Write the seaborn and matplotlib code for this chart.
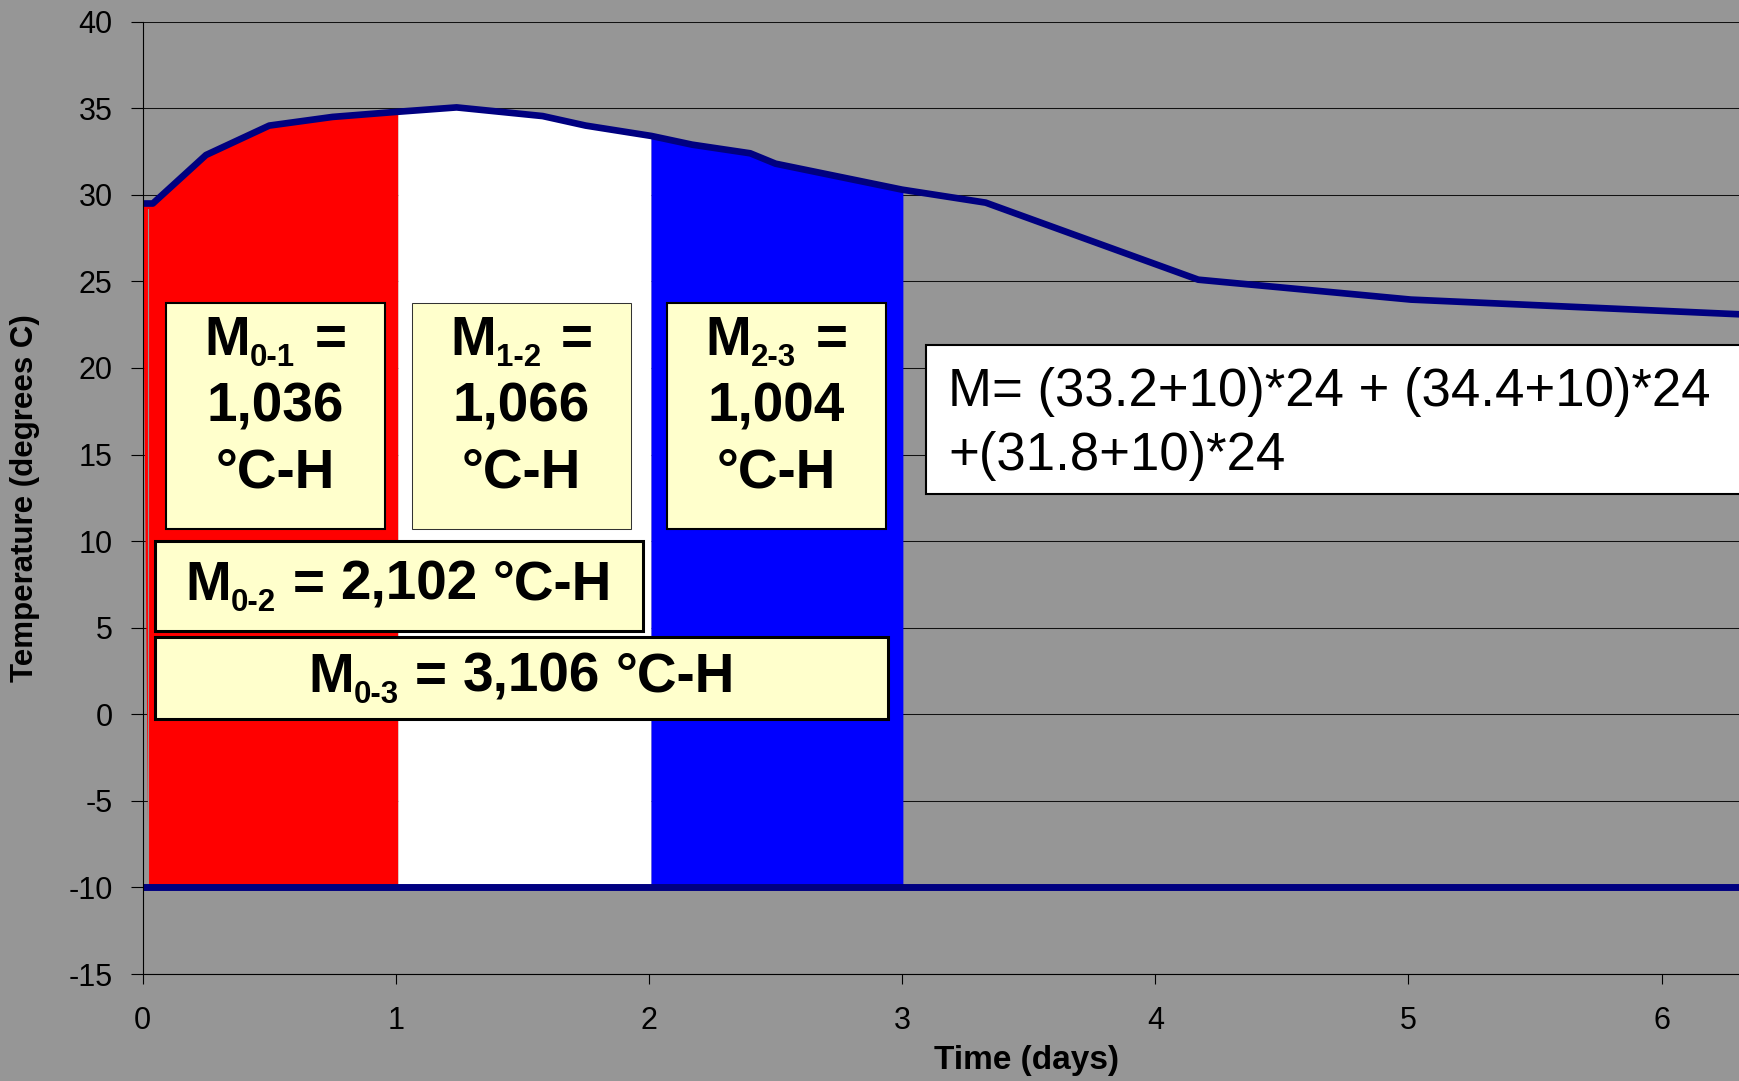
import numpy as np
import matplotlib
matplotlib.use("Agg")
import matplotlib.pyplot as plt
from matplotlib.patches import Rectangle
import seaborn as sns

# ---- data -------------------------------------------------------------
days = [0.0, 0.04, 0.25, 0.50, 0.75, 1.01, 1.24, 1.58, 1.75, 2.01,
        2.17, 2.40, 2.50, 3.00, 3.33, 4.17, 5.01, 6.31]
temps = [29.5, 29.5, 32.3, 34.0, 34.5, 34.8, 35.05, 34.55, 34.0, 33.4,
         32.9, 32.4, 31.8, 30.3, 29.55, 25.1, 23.95, 23.1]
datum_temp = -10
day_bounds = [0.0, 1.01, 2.01, 3.005]
band_colors = ["#FF0000", "#FFFFFF", "#0000FF"]

x_ticks = [0, 1, 2, 3, 4, 5, 6]
y_ticks = [-15, -10, -5, 0, 5, 10, 15, 20, 25, 30, 35, 40]
y_tick_labels = [str(v) for v in y_ticks]

daily_labels = [("M", "0-1", "1,036"), ("M", "1-2", "1,066"), ("M", "2-3", "1,004")]
cumulative_labels = [("M", "0-2", "2,102"), ("M", "0-3", "3,106")]
unit = "°C-H"
formula_lines = ["M= (33.2+10)*24 + (34.4+10)*24", "+(31.8+10)*24"]

# ---- style ------------------------------------------------------------
W, H, DPI = 1740, 1081, 100
BG = "#969696"
NAVY = "#000080"
NOTE = "#FFFFCC"

sns.set_theme(style="ticks")
plt.rcParams["font.family"] = ["Liberation Sans", "DejaVu Sans"]
plt.rcParams["axes.unicode_minus"] = False

fig = plt.figure(figsize=(W / DPI, H / DPI), dpi=DPI, facecolor=BG)
ax_left, ax_right, ax_top, ax_bottom = 142.7, 1740.0, 21.7, 974.0
ax = fig.add_axes([ax_left / W, 1 - ax_bottom / H,
                   (ax_right - ax_left) / W, (ax_bottom - ax_top) / H])
ax.set_facecolor(BG)
x_max = days[-1]
ax.set_xlim(0, x_max)
ax.set_ylim(-15, 40)

# ---- daily maturity bands --------------------------------------------
left_foot = 0.023
for i, color in enumerate(band_colors):
    lo, hi = day_bounds[i], day_bounds[i + 1]
    xs = [lo] + [d for d in days if lo < d < hi] + [hi]
    ys = list(np.interp(xs, days, temps))
    foot = left_foot if i == 0 else lo
    ax.fill(xs + [hi, foot], ys + [datum_temp, datum_temp],
            color=color, lw=0, zorder=1)
ax.plot([0.022, 0.022], [datum_temp, temps[0] - 0.3], color=BG, lw=0.8,
        zorder=1.5)

# ---- temperature history and datum temperature -----------------------
sns.lineplot(x=days, y=temps, ax=ax, color=NAVY, lw=4.8, sort=False,
             estimator=None, zorder=3, solid_capstyle="butt")
sns.lineplot(x=[0, x_max], y=[datum_temp, datum_temp], ax=ax, color=NAVY,
             lw=5.0, estimator=None, zorder=3, solid_capstyle="butt")

# ---- axes ---------------------------------------------------------------
ax.set_axisbelow(True)
ax.grid(axis="y", color="#111111", lw=0.75, zorder=0.5)
ax.grid(axis="x", visible=False)
for side in ("top", "right"):
    ax.spines[side].set_visible(False)
for side in ("left", "bottom"):
    ax.spines[side].set_color("black")
    ax.spines[side].set_linewidth(0.8)
    ax.spines[side].set_zorder(4)
ax.set_xticks(x_ticks)
ax.set_xticklabels([str(v) for v in x_ticks])
ax.set_yticks(y_ticks)
ax.set_yticklabels(y_tick_labels)
ax.tick_params(axis="y", length=8.6, width=0.8, pad=13, labelsize=22,
               direction="out", colors="black")
ax.tick_params(axis="x", length=7.2, width=0.8, pad=16, labelsize=22,
               direction="out", colors="black")

ax.set_xlabel("Time (days)", fontsize=24, fontweight="bold", color="black")
ax.xaxis.set_label_coords((1027 - ax_left) / (ax_right - ax_left),
                          (ax_bottom - 1060) / (ax_bottom - ax_top))
ax.xaxis.label.set_va("center")
ax.set_ylabel("Temperature (degrees C)", fontsize=22.5, fontweight="bold",
              color="black")
ax.yaxis.set_label_coords((25 - ax_left) / (ax_right - ax_left), 0.5)
ax.yaxis.label.set_va("center")

# ---- annotation boxes (figure pixel coordinates, origin top-left) -----
renderer = fig.canvas.get_renderer()


def fx(px):
    return px / W


def fy(py):
    return 1 - py / H


def box(x0, y0, x1, y1, face, lw, edge="black"):
    fig.patches.append(Rectangle((fx(x0), fy(y1)), fx(x1) - fx(x0),
                                 fy(y0) - fy(y1), transform=fig.transFigure,
                                 facecolor=face, edgecolor=edge, lw=lw,
                                 zorder=5))


def rich_line(parts, cx, baseline):
    """parts: (text, size, baseline shift px, gap before in em)."""
    items = []
    total = 0.0
    for s, size, dy, gap in parts:
        t = fig.text(0, 0, s, fontsize=size, fontweight="bold",
                     ha="left", va="baseline", color="black", zorder=6)
        w = t.get_window_extent(renderer).width
        g = gap * size * DPI / 72
        items.append((t, w, g, dy))
        total += w + g
    x = cx - total / 2
    for t, w, g, dy in items:
        x += g
        t.set_position((fx(x), fy(baseline + dy)))
        x += w


MAIN, SUB, SUB_DY = 39.5, 22.5, 11
# single-day boxes
day_boxes = [(166, 385, 1.5, "black"), (411.6, 631.5, 0.75, "#333333"),
             (666.7, 886, 1.5, "black")]
for (sym, sub, val), (x0, x1, lw, edge) in zip(daily_labels, day_boxes):
    box(x0, 303.3, x1, 528.7, NOTE, lw, edge)
    cx = (x0 + x1) / 2
    rich_line([(sym, MAIN, 0, 0), (sub, SUB, SUB_DY, 0), ("=", MAIN, 0, 0.35)],
              cx, 355)
    rich_line([(val, MAIN, 0, 0)], cx, 422)
    rich_line([(unit, MAIN, 0, 0)], cx, 487)

# cumulative boxes
cum_boxes = [(155, 540.7, 642.7, 630.7, 600), (155, 637.3, 887.6, 719.3, 692)]
for (sym, sub, val), (x0, y0, x1, y1, base) in zip(cumulative_labels, cum_boxes):
    box(x0, y0, x1, y1, NOTE, 2.2)
    rich_line([(sym, MAIN, 0, 0), (sub, SUB, SUB_DY, 0), ("=", MAIN, 0, 0.3),
               (val, MAIN, 0, 0.28), (unit, MAIN, 0, 0.28)],
              (x0 + x1) / 2, base)

# formula box
box(925.7, 345, 1760, 494, "white", 1.5)
for line, base in zip(formula_lines, [406, 470]):
    fig.text(fx(948), fy(base), line, fontsize=38, ha="left",
             va="baseline", color="black", zorder=6)

fig.savefig("out.png", dpi=DPI, facecolor=BG)
